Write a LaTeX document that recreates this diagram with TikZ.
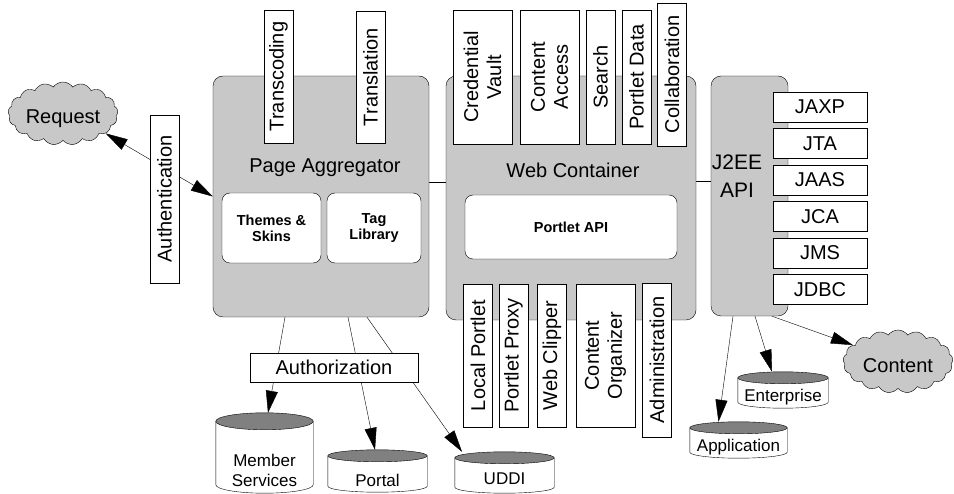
\documentclass[tikz,border=0pt]{standalone}
\usepackage{fontspec}
\setmainfont{Liberation Sans}
\usetikzlibrary{arrows.meta,calc,shapes.symbols}
\definecolor{boxgray}{RGB}{200,200,200}
\definecolor{dbgray}{RGB}{128,128,128}
\pgfdeclarelayer{bg}
\pgfsetlayers{bg,main}
% cylinder round a database node: node name, half height of the lid
\newcommand{\dbshape}[2]{%
	\draw[fill=white] let \p1=(#1.north west), \p2=(#1.south east), \n1={(\x2-\x1)/2} in
		(\x1,\y1-#2) -- (\x1,\y2+#2) arc[start angle=180, end angle=360, x radius=\n1, y radius=#2] -- (\x2,\y1-#2) -- cycle;
	\draw[fill=dbgray] let \p1=(#1.north west), \p2=(#1.south east), \n1={(\x2-\x1)/2} in
		(\x1+\n1,\y1-#2) ellipse [x radius=\n1, y radius=#2];
}
\tikzset{
	container/.style={draw, fill=boxgray, rounded corners=10pt, inner sep=0pt},
	vbox/.style={draw, fill=white, rotate=90, inner sep=0pt, align=center, minimum height=29pt},
	rbox/.style={draw, fill=white, rounded corners=8pt, inner sep=0pt, align=center, font=\fontsize{14.5}{16}\selectfont\bfseries},
	jbox/.style={draw, fill=white, minimum width=94pt, minimum height=30pt, inner sep=0pt},
	db/.style={inner sep=0pt, align=center, text depth=0pt, font=\fontsize{17}{20}\selectfont},
	cloudnode/.style={draw, shape=cloud, cloud puffs=17, cloud puff arc=110, cloud ignores aspect, fill=boxgray, inner sep=0pt, text depth=0pt},
	arr/.style={-{Triangle[length=22pt,width=12pt]}},
}

\begin{document}
\begin{tikzpicture}[x=1pt, y=-1pt, font=\fontsize{20}{23}\selectfont]
			%%%%% START %%%%%
			\useasboundingbox (0,0) rectangle (954,494);
			
			% the three containers
			\node[container, minimum width=216pt, minimum height=241pt] (pageagg) at (321,196.5) {};
			\node[container, minimum width=250pt, minimum height=244pt] (webc) at (571,198) {};
			\node[container, minimum width=77pt, minimum height=240pt] (j2ee) at (749.5,196) {};
			
			\node (pagetxt) at (325,168) {Page Aggregator};
			\node (webtxt) at (573,170) {Web Container};
			\node[align=center, font=\fontsize{21}{28}\selectfont] (j2eetxt) at (737,176) {J2EE\\API};
			
			% page aggregator parts
			\node[vbox, minimum width=133pt] (transc) at (278.5,76.5) {Transcoding};
			\node[vbox, minimum width=132pt] (transl) at (370.5,77) {Translation};
			\node[rbox, minimum width=99pt, minimum height=70pt] (themes) at (271.5,228) {Themes \&\\Skins};
			\node[rbox, minimum width=94pt, minimum height=70pt] (taglib) at (374,228) {Tag\\Library};
			
			% web container parts
			\node[vbox, minimum width=134pt, minimum height=59pt] (credvault) at (482.5,77) {Credential\\Vault};
			\node[vbox, minimum width=134pt, minimum height=59pt] (contacc) at (549.5,77) {Content\\Access};
			\node[vbox, minimum width=134pt] (search) at (600.5,77) {Search};
			\node[vbox, minimum width=134pt] (pdata) at (636.5,77) {Portlet Data};
			\node[vbox, minimum width=143pt] (collab) at (672,74.5) {Collaboration};
			\node[rbox, minimum width=212pt, minimum height=64pt] (portletapi) at (571,227) {Portlet API};
			\node[vbox, minimum width=143pt] (localp) at (478,355.5) {Local Portlet};
			\node[vbox, minimum width=143pt] (pproxy) at (513.5,355.5) {Portlet Proxy};
			\node[vbox, minimum width=143pt] (wclip) at (552,355.5) {Web Clipper};
			\node[vbox, minimum width=143pt, minimum height=59pt] (corg) at (605.5,355.5) {Content\\Organizer};
			\node[vbox, minimum width=154pt] (admin) at (657,360) {Administration};
			
			% j2ee services
			\foreach \jname [count=\i from 0] in {JAXP,JTA,JAAS,JCA,JMS,JDBC}
				\node[jbox] (\jname) at (820,{107+36.5*\i}) {\jname};
			
			% outside
			\node[cloudnode, minimum width=110pt, minimum height=63pt, text height=21pt] (request) at (63,113.5) {Request};
			\node[cloudnode, minimum width=110pt, minimum height=63pt, text height=23pt] (content) at (898,361.5) {Content};
			\node[vbox, minimum width=168pt] (auth) at (164.5,199) {Authentication};
			\node[draw, fill=white, minimum width=168pt, minimum height=29pt, inner sep=0pt] (authz) at (334,367.5) {Authorization};
			
			\node[db, minimum width=97pt, minimum height=80pt, text height=66pt] (member) at (264.5,453) {Member\\Services};
			\node[db, minimum width=99pt, minimum height=42pt, text height=30pt] (portal) at (377.5,471) {Portal};
			\node[db, minimum width=99pt, minimum height=41pt, text height=25pt] (uddi) at (504.5,472.5) {UDDI};
			\node[db, minimum width=97pt, minimum height=36pt, text height=24pt] (appl) at (738.5,440) {Application};
			\node[db, minimum width=90pt, minimum height=36pt, text height=24pt] (enterp) at (783,390) {Enterprise};
			
			% connectors
			\begin{pgfonlayer}{bg}
				\dbshape{member}{8.5pt}
				\dbshape{portal}{6pt}
				\dbshape{uddi}{6pt}
				\dbshape{appl}{6pt}
				\dbshape{enterp}{6pt}
				\draw[{Triangle[length=22pt,width=12pt]}-{Triangle[length=22pt,width=12pt]}] (request.-25) -- (pageagg.west);
				\draw ([yshift=14.5pt]pageagg.east) -- ([yshift=16pt]webc.west);
				\draw ([yshift=17pt]webc.east) -- ([yshift=15pt]j2ee.west);
				\draw[arr] ([xshift=-36pt]pageagg.south) -- ([xshift=3.5pt]member.north);
				\draw[arr] ([xshift=27pt]pageagg.south) -- ([xshift=-2.5pt]portal.north);
				\draw[arr] ([xshift=46pt]pageagg.south) -- ([xshift=-42.5pt]uddi.north);
				\draw[arr] ([xshift=-16.5pt]j2ee.south) -- ([xshift=-20pt]appl.north);
				\draw[arr] ([xshift=5.5pt]j2ee.south) -- ([xshift=-11pt]enterp.north);
				\draw[arr] ([xshift=22.5pt]j2ee.south) -- (content.160);
			\end{pgfonlayer}
			
			%%%%% END %%%%%
\end{tikzpicture}
\end{document}
